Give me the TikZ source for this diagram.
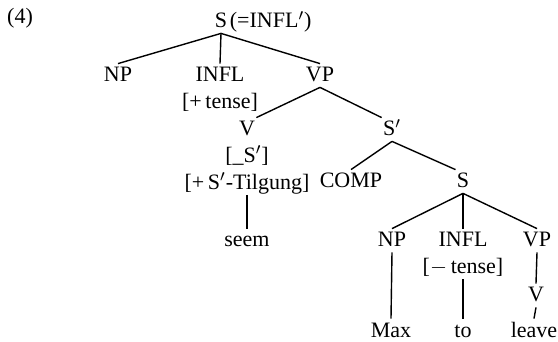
\documentclass[tikz,border=0pt]{standalone}
\usepackage{fontspec}
\setmainfont{Liberation Serif}
\usetikzlibrary{positioning}

\begin{document}
\begin{tikzpicture}[
    x=0.5pt, y=-0.5pt,
    node distance=1.5pt,
    font=\fontsize{11}{13}\selectfont,
    % Styles
    cat/.style={inner sep=0.5pt, text height=8.5pt, text depth=2pt, anchor=base},
    branch/.style={line width=0.7pt}
]
\useasboundingbox (0,0) rectangle (558,342);

% 1. Example number and root
\node[cat] (exno) at (20,24) {(4)};
\node[cat] (root) at (221,28) {S};
\node[cat, right=0pt of root] (rootnote) {(=INFL$'$)};

% 2. Upper clause
\node[cat] (np1) at (118,82) {NP};
\node[cat] (infl1) at (220,82) {INFL};
\node[cat, below=of infl1] (tense1) {[+\,tense]};
\node[cat] (vp1) at (320,82) {VP};

\draw[branch] (root.south) -- (np1.north);
\draw[branch] (root.south) -- (infl1.north);
\draw[branch] (root.south) -- (vp1.north);

% 3. Verb with its features
\node[cat] (v1) at (247,136) {V};
\node[cat, below=of v1] (subcat) {[\_S$'$]};
\node[cat, below=of subcat] (tilg) {[+\,S$'$-Tilgung]};
\node[cat] (seem) at (247,247) {seem};

\draw[branch] (vp1.south) -- (v1.north east);
\draw[branch] (tilg.south) -- (seem.north);

% 4. Embedded S-bar
\node[cat] (sbar) at (392,136) {S$'$};
\node[cat] (comp) at (351,188) {COMP};
\node[cat] (s2) at (463,188) {S};

\draw[branch] (vp1.south) -- (sbar.north west);
\draw[branch] (sbar.south) -- (comp.north);
\draw[branch] (sbar.south) -- (s2.north west);

% 5. Lower clause
\node[cat] (np2) at (392,247) {NP};
\node[cat] (infl2) at (463,247) {INFL};
\node[cat, below=of infl2] (tense2) {[$-$\,tense]};
\node[cat] (vp2) at (537,247) {VP};
\node[cat] (v2) at (536,302) {V};

\draw[branch] (s2.south) -- (np2.north);
\draw[branch] (s2.south) -- (infl2.north);
\draw[branch] (s2.south) -- (vp2.north);
\draw[branch] (vp2.south) -- (v2.north);

% 6. Words
\node[cat] (max) at (391,337) {Max};
\node[cat] (to) at (463,337) {to};
\node[cat] (leave) at (534,337) {leave};

\draw[branch] (np2.south) -- (max.north);
\draw[branch] (tense2.south) -- (to.north);
\draw[branch] (v2.south) -- (leave.north);

\end{tikzpicture}
\end{document}
